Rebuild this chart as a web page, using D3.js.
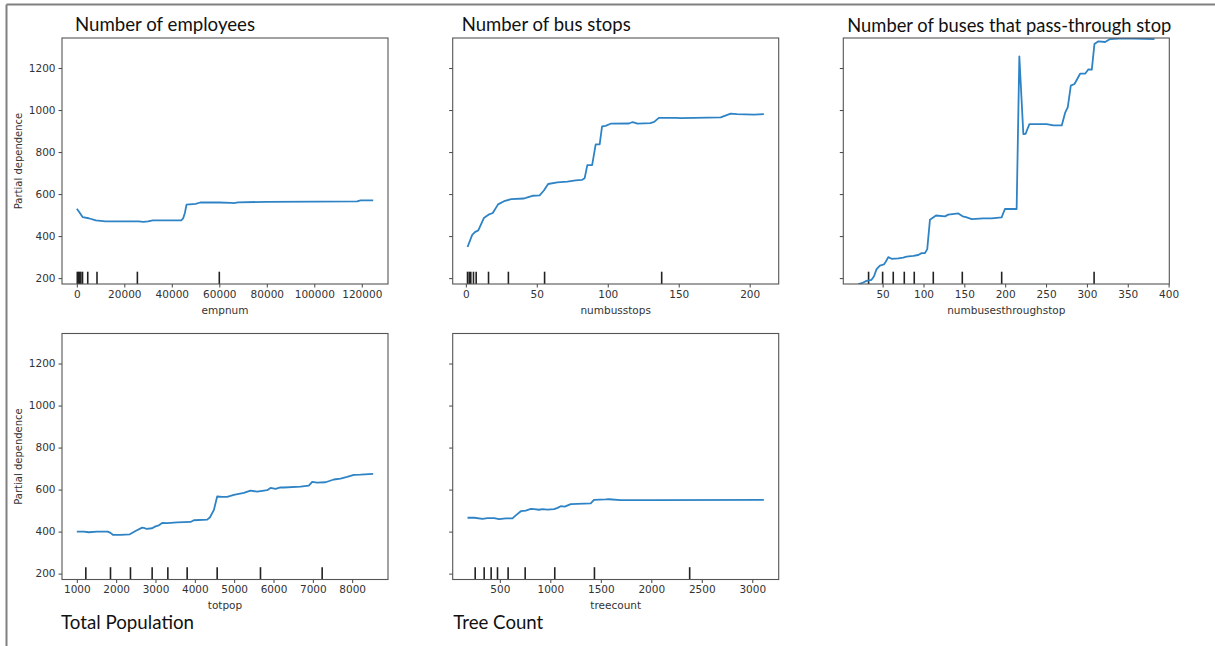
<!DOCTYPE html>
<html>
<head>
<meta charset="utf-8">
<script src="https://cdn.jsdelivr.net/npm/d3@7"></script>
<style>
  html, body { margin: 0; padding: 0; background: #fff; }
  svg { display: block; }
  .tick text { font-family: "DejaVu Sans", sans-serif; font-size: 10.5px; fill: #333; }
  .tick line { stroke: #444; }
  .domain { display: none; }
</style>
</head>
<body>
<svg id="chart" width="1215" height="646"></svg>
<script>
// ---------- DATA ----------
const yTicks = [200, 400, 600, 800, 1000, 1200];
const yLabel = "Partial dependence";

// Panel 1: Number of employees
const empX = [0, 1000, 2500, 5000, 8000, 12000, 20000, 26000, 28000, 30000, 32000, 38000, 44000, 44800, 45500, 46200, 50000, 52000, 60000, 65000, 66000, 68000, 80000, 100000, 118000, 119500, 124800];
const empY = [530, 515, 490, 485, 475, 470, 470, 470, 468, 470, 475, 475, 475, 485, 510, 550, 553, 560, 560, 558, 557, 561, 563, 564, 565, 570, 570];
const empDeciles = [200, 700, 1200, 1700, 2400, 4600, 8500, 25500, 60000];
const empTicks = [0, 20000, 40000, 60000, 80000, 100000, 120000];

// Panel 2: Number of bus stops
const stopsX = [1.2, 4.5, 6.4, 8.8, 12.7, 16, 19, 22.7, 27.6, 32, 41, 44, 47, 52, 55, 58, 64.5, 71.5, 77.4, 82, 83.7, 85.6, 89, 91.5, 94.3, 96, 98.5, 102, 115, 117.5, 121, 130, 132.7, 136, 148, 151.5, 179.6, 186.6, 191, 203, 210];
const stopsY = [348, 406, 419, 427, 486, 502, 510, 551, 568, 576, 579, 586, 592, 594, 617, 648, 656, 659, 665, 668, 675, 738, 738, 837, 837, 922, 925, 935, 936, 943, 935, 938, 944, 963, 963, 962, 965, 983, 981, 978, 981];
const stopsDeciles = [1.2, 2.4, 3.5, 5.4, 7.3, 16, 30, 55.5, 138];
const stopsTicks = [0, 50, 100, 150, 200];

// Panel 3: Number of buses that pass-through stop
const busesX = [20, 26.2, 30.3, 36.4, 39.3, 42.6, 46.7, 51.6, 54, 56.9, 61, 69.1, 75.2, 79.3, 87.5, 93.6, 97.7, 101.8, 104.6, 107.9, 115.3, 126.3, 130.4, 142.6, 147.9, 152, 159, 173.2, 183.4, 195.6, 199.7, 214, 217.3, 222.2, 225, 229.6, 250.8, 259, 269.2, 273.3, 276.6, 280.3, 284.8, 291.7, 297.8, 301.9, 306, 309.2, 314.1, 322.3, 328.4, 344.7, 382.7];
const busesY = [170, 179, 187, 192, 208, 243, 260, 265, 279, 300, 292, 294, 298, 302, 306, 310, 319, 319, 338, 478, 498, 494, 502, 508, 494, 490, 481, 484, 484, 489, 529, 529, 1256, 886, 887, 933, 933, 927, 927, 986, 1014, 1116, 1124, 1173, 1173, 1194, 1192, 1314, 1327, 1324, 1338, 1341, 1338];
const busesDeciles = [32.8, 50, 63, 76.5, 88.7, 112, 147.5, 195.7, 308.8];
const busesTicks = [50, 100, 150, 200, 250, 300, 350, 400];

// Panel 4: Total Population
const popX = [1000, 1178, 1305, 1517, 1788, 1856, 1924, 2110, 2347, 2492, 2661, 2729, 2771, 2915, 3000, 3085, 3170, 3297, 3551, 3890, 3975, 4314, 4381, 4483, 4568, 4695, 4822, 4992, 5246, 5415, 5585, 5839, 5924, 6051, 6178, 6263, 6686, 6898, 6983, 7110, 7322, 7534, 7703, 7873, 8042, 8212, 8534];
const popY = [400, 400, 397, 400, 400, 394, 384, 384, 387, 403, 419, 416, 413, 416, 425, 430, 441, 440, 444, 446, 454, 457, 467, 502, 567, 565, 565, 575, 584, 595, 590, 597, 608, 603, 611, 610, 614, 619, 637, 633, 635, 648, 652, 660, 670, 671, 675];
const popDeciles = [1229, 1856, 2364, 2915, 3314, 3805, 4568, 5669, 7237];
const popTicks = [1000, 2000, 3000, 4000, 5000, 6000, 7000, 8000];

// Panel 5: Tree Count
const treeX = [180, 246, 329, 378, 444, 493, 559, 625, 658, 708, 757, 807, 840, 889, 922, 972, 1038, 1071, 1104, 1143, 1202, 1268, 1400, 1433, 1549, 1582, 1697, 2027, 3115];
const treeY = [466, 466, 461, 464, 464, 459, 463, 463, 477, 497, 500, 508, 507, 504, 507, 505, 507, 513, 521, 519, 531, 532, 534, 551, 553, 554, 550, 550, 551];
const treeDeciles = [256, 345, 414, 477, 582, 751, 1044, 1437, 2380];
const treeTicks = [500, 1000, 1500, 2000, 2500, 3000];

const panels = [
  { title: "Number of employees", xlabel: "empnum", xs: empX, ys: empY, dec: empDeciles, ticks: empTicks, showY: true,
    left: 62, top: 38, titleX: 75, titleY: 30.5, titleW: 180 },
  { title: "Number of bus stops", xlabel: "numbusstops", xs: stopsX, ys: stopsY, dec: stopsDeciles, ticks: stopsTicks, showY: false,
    left: 452.7, top: 38, titleX: 461.7, titleY: 30.5, titleW: 169 },
  { title: "Number of buses that pass-through stop", xlabel: "numbusesthroughstop", xs: busesX, ys: busesY, dec: busesDeciles, ticks: busesTicks, showY: false,
    left: 843.3, top: 38, titleX: 847.3, titleY: 31.5, titleW: 324 },
  { title: "Total Population", xlabel: "totpop", xs: popX, ys: popY, dec: popDeciles, ticks: popTicks, showY: true,
    left: 62, top: 333.5, titleX: 61, titleY: 629, titleW: 133 },
  { title: "Tree Count", xlabel: "treecount", xs: treeX, ys: treeY, dec: treeDeciles, ticks: treeTicks, showY: false,
    left: 452.7, top: 333.5, titleX: 453.3, titleY: 629, titleW: 90 }
];

// ---------- DRAW ----------
const svg = d3.select("#chart");
const W = 326, H = 246;

// outer frame (top and left edges)
svg.append("line").attr("x1", 6.5).attr("x2", 1215).attr("y1", 4.5).attr("y2", 4.5)
  .attr("stroke", "#808080").attr("stroke-width", 2);
svg.append("line").attr("x1", 6.5).attr("x2", 6.5).attr("y1", 4.5).attr("y2", 646)
  .attr("stroke", "#808080").attr("stroke-width", 2);

panels.forEach((p, i) => {
  const g = svg.append("g").attr("transform", `translate(${p.left},${p.top})`);
  const ext = d3.extent(p.xs);
  const r = ext[1] - ext[0];
  const x = d3.scaleLinear().domain([ext[0] - 0.05 * r, ext[1] + 0.05 * r]).range([0, W]);
  const y = d3.scaleLinear().domain([172, 1343]).range([H, 0]);

  const clipId = "clip" + i;
  g.append("clipPath").attr("id", clipId).append("rect").attr("width", W).attr("height", H);

  // decile rug
  g.append("g").selectAll("line").data(p.dec).join("line")
    .attr("x1", d => x(d)).attr("x2", d => x(d))
    .attr("y1", H).attr("y2", H - 0.05 * H)
    .attr("stroke", "#222").attr("stroke-width", 1.6);

  // line
  const line = d3.line().x((d, j) => x(p.xs[j])).y(d => y(d));
  g.append("path").datum(p.ys).attr("clip-path", `url(#${clipId})`)
    .attr("d", line).attr("fill", "none").attr("stroke", "#2e83c5")
    .attr("stroke-width", 1.8).attr("stroke-linejoin", "round");

  // axes
  const xa = g.append("g").attr("transform", `translate(0,${H})`)
    .call(d3.axisBottom(x).tickValues(p.ticks).tickSize(3.5).tickPadding(3).tickFormat(d3.format("d")));
  const ya = g.append("g")
    .call(d3.axisLeft(y).tickValues(yTicks).tickSize(3.5).tickPadding(3)
      .tickFormat(p.showY ? d3.format("d") : () => ""));

  // spines
  g.append("rect").attr("width", W).attr("height", H).attr("fill", "none")
    .attr("stroke", "#555").attr("stroke-width", 1.1);

  // x label
  g.append("text").attr("x", W / 2).attr("y", H + 29.5).attr("text-anchor", "middle")
    .attr("font-family", "DejaVu Sans, sans-serif").attr("font-size", 10.5).attr("fill", "#333")
    .text(p.xlabel);

  if (p.showY) {
    g.append("text").attr("transform", `translate(${-40},${H / 2}) rotate(-90)`)
      .attr("text-anchor", "middle")
      .attr("font-family", "DejaVu Sans, sans-serif").attr("font-size", 10).attr("fill", "#333")
      .text(yLabel);
  }

  // title
  svg.append("text").attr("x", p.titleX).attr("y", p.titleY)
    .attr("font-family", "Lato, 'Open Sans', sans-serif").attr("font-size", 20).attr("fill", "#111")
    .attr("textLength", p.titleW).attr("lengthAdjust", "spacingAndGlyphs")
    .text(p.title);
});
</script>
</body>
</html>
